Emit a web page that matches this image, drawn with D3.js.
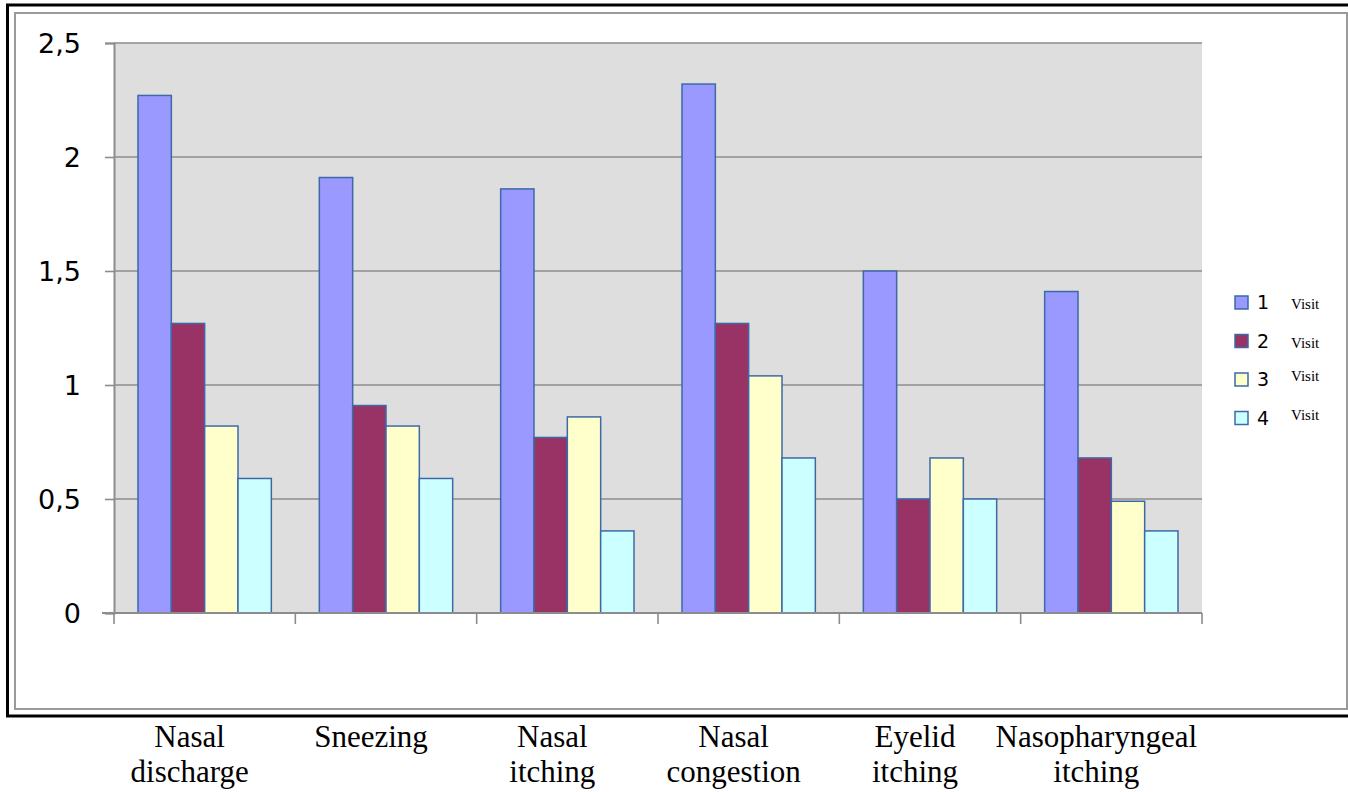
<!DOCTYPE html>
<html>
<head>
<meta charset="utf-8">
<script src="https://cdn.jsdelivr.net/npm/d3@7"></script>
<style>
  html, body { margin: 0; padding: 0; background: #fff; }
  svg { display: block; }
</style>
</head>
<body>
<svg id="chart" width="1348" height="792"></svg>
<script>
// ---- data ----
const categories = ["Nasal discharge", "Sneezing", "Nasal itching", "Nasal congestion", "Eyelid itching", "Nasopharyngeal itching"];
const labelLines1 = ["Nasal", "Sneezing", "Nasal", "Nasal", "Eyelid", "Nasopharyngeal"];
const labelLines2 = ["discharge", "", "itching", "congestion", "itching", "itching"];
const seriesNames = ["1", "2", "3", "4"];
const seriesSuffix = "Visit";
const visit1 = [2.27, 1.91, 1.86, 2.32, 1.50, 1.41];
const visit2 = [1.27, 0.91, 0.77, 1.27, 0.50, 0.68];
const visit3 = [0.82, 0.82, 0.86, 1.04, 0.68, 0.49];
const visit4 = [0.59, 0.59, 0.36, 0.68, 0.50, 0.36];
const yTicks = [0, 0.5, 1, 1.5, 2, 2.5];
const yTickLabels = ["0", "0,5", "1", "1,5", "2", "2,5"];
const colors = ["#9999FF", "#993366", "#FFFFCC", "#CCFFFF"];

const seriesValues = [visit1, visit2, visit3, visit4];

const svg = d3.select("#chart");

// frames
svg.append("rect").attr("x", 7.5).attr("y", 5).attr("width", 1360).attr("height", 711)
  .attr("fill", "none").attr("stroke", "#000").attr("stroke-width", 3);
svg.append("rect").attr("x", 15).attr("y", 13).attr("width", 1332).attr("height", 696)
  .attr("fill", "none").attr("stroke", "#9a9a9a").attr("stroke-width", 2);

const plot = { left: 114, right: 1202, top: 43, bottom: 613 };

const x0 = d3.scaleBand().domain(categories).range([plot.left, plot.right]).padding(0);
const x1 = d3.scaleBand().domain(seriesNames).range([0, x0.bandwidth()]).paddingInner(0).paddingOuter(0.72);
const y = d3.scaleLinear().domain([0, 2.5]).range([plot.bottom, plot.top]);

// plot background
svg.append("rect").attr("x", plot.left).attr("y", plot.top)
  .attr("width", plot.right - plot.left).attr("height", plot.bottom - plot.top)
  .attr("fill", "#DEDEDE");

// gridlines
svg.append("g").selectAll("line").data(yTicks.filter(d => d > 0)).join("line")
  .attr("x1", plot.left).attr("x2", plot.right)
  .attr("y1", d => y(d)).attr("y2", d => y(d))
  .attr("stroke", "#8c8c8c").attr("stroke-width", 1.6);

// y axis
const yAxis = d3.axisLeft(y).tickValues(yTicks).tickSize(9).tickPadding(24)
  .tickFormat((d, i) => yTickLabels[i]);
const gy = svg.append("g").attr("transform", `translate(${plot.left},0)`).call(yAxis);
gy.select(".domain").attr("stroke", "#8c8c8c").attr("stroke-width", 2);
gy.selectAll(".tick line").attr("stroke", "#8c8c8c").attr("stroke-width", 1.6);
gy.selectAll(".tick text").attr("font-family", "DejaVu Sans, Verdana, sans-serif")
  .attr("font-size", 27).attr("fill", "#000").attr("dy", "0.36em");

// bars
const groups = svg.append("g").selectAll("g").data(categories).join("g")
  .attr("transform", d => `translate(${x0(d)},0)`);
groups.selectAll("rect")
  .data((c, ci) => seriesNames.map((s, si) => ({ s, si, v: seriesValues[si][ci] })))
  .join("rect")
  .attr("x", d => x1(d.s))
  .attr("y", d => y(d.v))
  .attr("width", x1.bandwidth())
  .attr("height", d => y(0) - y(d.v))
  .attr("fill", d => colors[d.si])
  .attr("stroke", "#3d69a8").attr("stroke-width", 1.5);

// x axis line & ticks
svg.append("line").attr("x1", plot.left - 12).attr("x2", plot.right)
  .attr("y1", plot.bottom).attr("y2", plot.bottom)
  .attr("stroke", "#8c8c8c").attr("stroke-width", 2);
const boundaries = categories.map(c => x0(c)).concat([plot.right]);
svg.append("g").selectAll("line").data(boundaries).join("line")
  .attr("x1", d => d).attr("x2", d => d)
  .attr("y1", plot.bottom).attr("y2", plot.bottom + 11)
  .attr("stroke", "#8c8c8c").attr("stroke-width", 1.6);

// category labels (below the frame)
const labelShift = -15;
const lab = svg.append("g").attr("font-family", "Liberation Serif, Times New Roman, serif")
  .attr("font-size", 31).attr("fill", "#000").attr("text-anchor", "middle");
lab.selectAll("text.l1").data(categories).join("text").attr("class", "l1")
  .attr("x", d => x0(d) + x0.bandwidth() / 2 + labelShift).attr("y", 747)
  .text((d, i) => labelLines1[i]);
lab.selectAll("text.l2").data(categories).join("text").attr("class", "l2")
  .attr("x", d => x0(d) + x0.bandwidth() / 2 + labelShift).attr("y", 782)
  .text((d, i) => labelLines2[i]);

// legend
const legend = svg.append("g").attr("transform", "translate(1235,296)");
const li = legend.selectAll("g").data(seriesNames).join("g")
  .attr("transform", (d, i) => `translate(0,${i * 38.5})`);
li.append("rect").attr("width", 13).attr("height", 13)
  .attr("fill", (d, i) => colors[i]).attr("stroke", "#3d69a8").attr("stroke-width", 1.5);
li.append("text").attr("x", 22).attr("y", 13)
  .attr("font-family", "DejaVu Sans, Verdana, sans-serif").attr("font-size", 19)
  .text(d => d);
li.append("text").attr("x", 56).attr("y", (d, i) => i < 2 ? 13 : 8)
  .attr("font-family", "Liberation Serif, Times New Roman, serif").attr("font-size", 15)
  .text(seriesSuffix);
</script>
</body>
</html>
